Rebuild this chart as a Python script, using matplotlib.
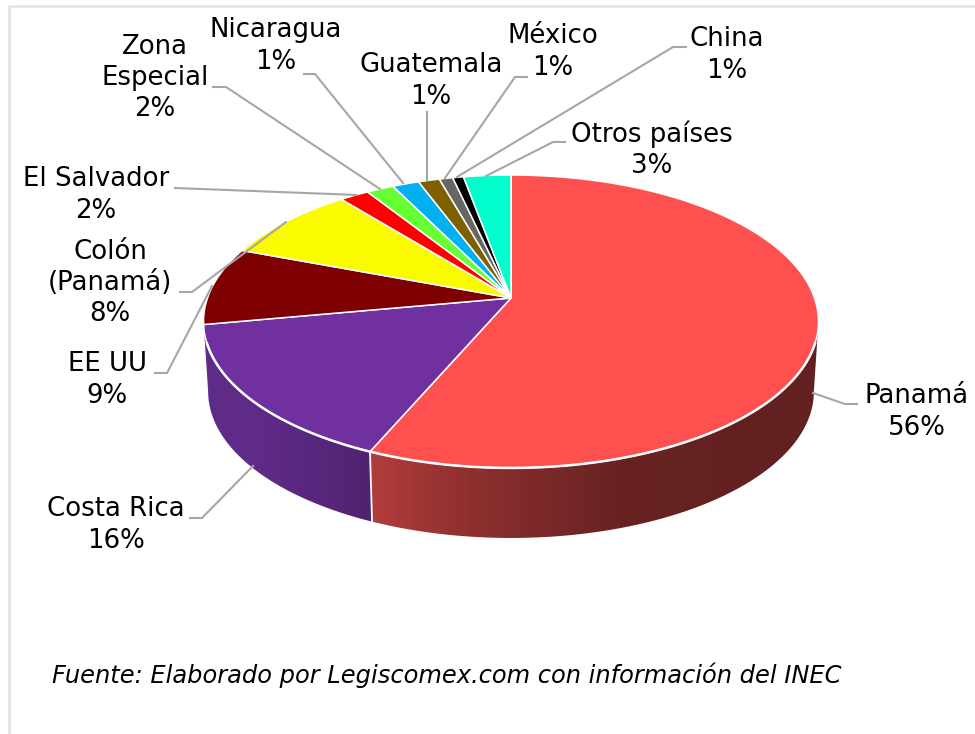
import numpy as np
import matplotlib
matplotlib.use('Agg')
import matplotlib.pyplot as plt
from matplotlib.colors import to_rgb
from matplotlib.patches import Polygon

# Shares, clockwise from 12 o'clock
paises = ['Panamá', 'Costa Rica', 'EE UU', 'Colón (Panamá)', 'El Salvador', 'Zona Especial',
          'Nicaragua', 'Guatemala', 'México', 'China', 'Otros países']
valores = [56.4, 15.6, 8.6, 8.45, 1.8, 1.67, 1.64, 1.3, 0.83, 0.66, 2.9]
colores = ['#FF5050', '#7030A0', '#7F0000', '#FBFB00', '#FF0000', '#66FF33',
           '#00B0F0', '#7F6000', '#666666', '#000000', '#00FFCC']

# Label text, centre of the text block
etiquetas = ['Panamá\n56%', 'Costa Rica\n16%', 'EE UU\n9%', 'Colón\n(Panamá)\n8%', 'El Salvador\n2%',
             'Zona\nEspecial\n2%', 'Nicaragua\n1%', 'Guatemala\n1%', 'México\n1%', 'China\n1%',
             'Otros países\n3%']
etiqueta_x = [917, 116, 107, 110, 96, 155, 276, 431, 553, 727, 652]
etiqueta_y = [412, 525, 380, 283, 195, 78, 46, 81, 52, 55, 150]

# Leader lines for the labels
guias = [
    [(813, 393), (845, 404), (857, 404)],
    [(253, 466), (202, 518), (190, 518)],
    [(212, 286), (167, 373), (155, 373)],
    [(286, 222), (192, 292), (180, 292)],
    [(175, 188), (357, 195)],
    [(213, 87), (226, 87), (380, 189)],
    [(304, 74), (315, 74), (403, 183)],
    [(427, 112), (427, 180)],
    [(527, 77), (515, 77), (445, 178)],
    [(686, 47), (673, 47), (457, 177)],
    [(565, 142), (553, 142), (486, 176)],
]

# Tilted disc: apex of the slices and the perspective of the rim
apice_x, apice_y = 511, 298
k, a, c = 0.1604, 142.7, 303.5
grosor = 70
esc_base = 0.985


def borde(theta, esc=1.0, baja=0):
    x = c * np.sin(theta) / (1 + k * np.cos(theta))
    y = a * np.cos(theta) / (1 + k * np.cos(theta))
    return apice_x + esc * x, apice_y - y + baja


fig = plt.figure(figsize=(9.75, 7.34), dpi=100)
ax = fig.add_axes([0, 0, 1, 1])
ax.axis('off')

# Outer frame, only left and top show
ax.plot([8.5, 8.5, 975], [734, 5.5, 5.5], color='#E2E2E2', lw=1.8, solid_capstyle='butt')

cortes = 2 * np.pi * np.cumsum([0] + valores) / sum(valores)

# Side wall of the two big slices, a horizontal gradient clipped to each wall
# the wall runs between the widest points of the rim
ancho = np.arcsin(k)
paradas_rojo = [(372, '#B23C3C'), (470, '#8E2F2F'), (620, '#682222'), (815, '#622020')]
paradas_morado = [(205, '#5F2C8A'), (260, '#5F2B88'), (372, '#4F2370')]
for ini, fin, paradas in [(np.pi / 2 + ancho, cortes[1], paradas_rojo),
                          (cortes[1], 3 * np.pi / 2 - ancho, paradas_morado)]:
    th = np.linspace(ini, fin, 200)
    x_sup, y_sup = borde(th)
    x_inf, y_inf = borde(th, esc_base, grosor)
    forma = Polygon(np.c_[np.r_[x_sup, x_inf[::-1]], np.r_[y_sup, y_inf[::-1]]], closed=True,
                    transform=ax.transData, facecolor='none', edgecolor='none')
    ax.add_patch(forma)
    x_min, x_max = paradas[0][0] - 5, paradas[-1][0] + 5
    x_img = np.linspace(x_min, x_max, 400)
    xs = [p[0] for p in paradas]
    rgb = np.array([to_rgb(p[1]) for p in paradas])
    img = np.stack([np.interp(x_img, xs, rgb[:, i]) for i in range(3)], axis=-1)[None, :, :]
    im = ax.imshow(img, extent=[x_min, x_max, 560, 300], aspect='auto', zorder=2, interpolation='bilinear')
    im.set_clip_path(forma)

ax.set_xlim(0, 975)
ax.set_ylim(734, 0)

# White seam where the two walls meet
x0, y0 = borde(cortes[1])
x1, y1 = borde(cortes[1], esc_base, grosor)
ax.plot([x0, x1], [y0, y1], color='white', lw=1.3, zorder=3)

# Top face
for i in range(len(valores)):
    th = np.linspace(cortes[i], cortes[i + 1], 120)
    xs, ys = borde(th)
    ax.fill(np.r_[apice_x, xs], np.r_[apice_y, ys], facecolor=colores[i], edgecolor='white',
            lw=1.1, joinstyle='round', zorder=4)

# Thicker white along the front of the rim
th = np.radians(np.linspace(107.5, 252.5, 200))
xs, ys = borde(th)
ax.plot(xs, ys, color='white', lw=1.8, zorder=4.5)

# Leader lines
for g in guias:
    ax.plot([p[0] for p in g], [p[1] for p in g], color='#A6A6A6', lw=1.5, zorder=5)

for txt, x, y in zip(etiquetas, etiqueta_x, etiqueta_y):
    ax.text(x, y, txt, ha='center', va='center', fontsize=18.7, linespacing=1.27, color='black', zorder=6)

ax.text(52, 675, 'Fuente: Elaborado por Legiscomex.com con información del INEC',
        fontsize=17.4, style='italic', ha='left', va='center', color='black')

fig.savefig('out.png', dpi=100)
